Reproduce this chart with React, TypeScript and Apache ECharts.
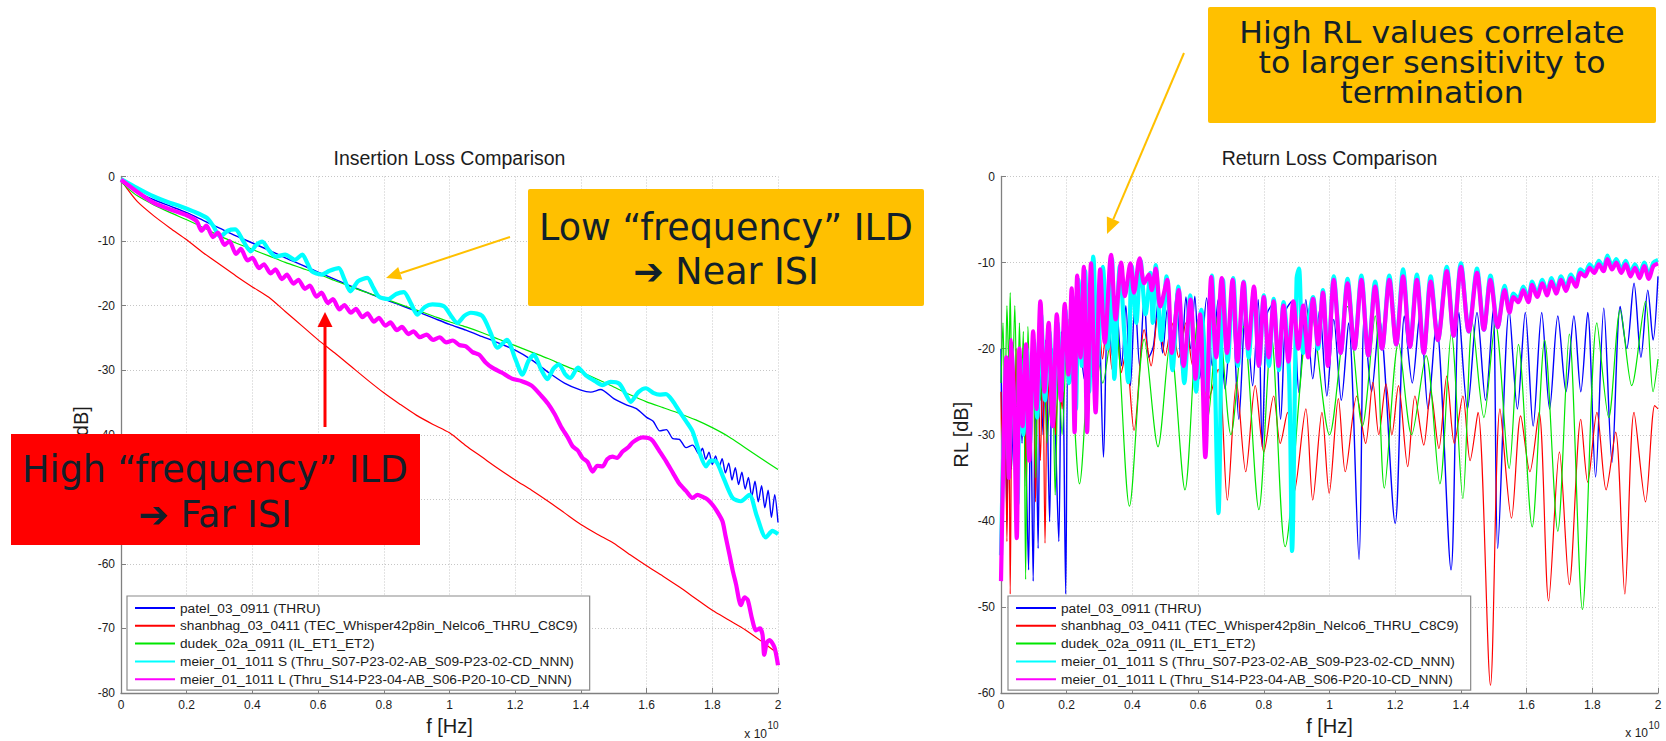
import { useEffect, useRef } from "react";
import * as echarts from "echarts";

type Pt = [number, number];

// ---- legend / series identity ----
const SERIES_NAMES = [
  "patel_03_0911 (THRU)",
  "shanbhag_03_0411 (TEC_Whisper42p8in_Nelco6_THRU_C8C9)",
  "dudek_02a_0911 (IL_ET1_ET2)",
  "meier_01_1011 S (Thru_S07-P23-02-AB_S09-P23-02-CD_NNN)",
  "meier_01_1011 L (Thru_S14-P23-04-AB_S06-P20-10-CD_NNN)",
];
const SERIES_COLORS = ["#0000ff", "#ff0000", "#00e600", "#00ffff", "#ff00ff"];

// frequency axis in units of 1e10 Hz
const FREQ_MIN = 0;
const FREQ_MAX = 2;
const FREQ_STEP = 0.2;
const IL_MIN = -80;
const RL_MIN = -60;
const DB_STEP = 10;

// ---- insertion loss [f (x1e10 Hz), dB] ----
const ilPatel: Pt[] = [
  [0, -0.5], [0.02, -1.4], [0.05, -2.4], [0.1, -3.6], [0.15, -4.6], [0.2, -5.6], [0.25, -6.8], [0.3, -8.0],
  [0.35, -9.2], [0.4, -10.3], [0.45, -11.4], [0.5, -12.6], [0.55, -13.7], [0.6, -14.8], [0.65, -15.9],
  [0.7, -17.0], [0.75, -18.0], [0.8, -19.0], [0.85, -19.9], [0.9, -20.9], [0.95, -21.9], [1.0, -22.9],
  [1.05, -23.8], [1.1, -24.8], [1.15, -25.8], [1.2, -26.9], [1.25, -28.4], [1.3, -30.3], [1.35, -32.0],
  [1.4, -33.1], [1.43, -33.4], [1.46, -33.0], [1.5, -34.4], [1.54, -35.4], [1.57, -36.0], [1.6, -37.3],
  [1.62, -37.9], [1.64, -39.4], [1.66, -39.2], [1.68, -40.6], [1.7, -40.7], [1.72, -42.0], [1.74, -41.6],
  [1.76, -43.0], [1.77, -42.1], [1.78, -43.8], [1.79, -42.7], [1.8, -44.6], [1.81, -43.3], [1.82, -45.1],
  [1.83, -43.7], [1.84, -45.9], [1.85, -44.4], [1.86, -47.0], [1.87, -45.1], [1.88, -47.7], [1.89, -45.8],
  [1.9, -48.4], [1.91, -46.6], [1.92, -49.6], [1.93, -47.2], [1.94, -50.4], [1.95, -47.9], [1.96, -51.3],
  [1.97, -48.6], [1.98, -52.8], [1.99, -49.3], [2.0, -53.6],
];
const ilShanbhag: Pt[] = [
  [0, -0.5], [0.02, -2.0], [0.05, -3.9], [0.1, -6.1], [0.15, -8.0], [0.2, -9.8], [0.25, -11.8], [0.3, -13.6],
  [0.35, -15.4], [0.4, -17.1], [0.45, -18.7], [0.5, -20.9], [0.55, -23.1], [0.6, -25.3], [0.65, -27.3],
  [0.7, -29.4], [0.75, -31.5], [0.8, -33.5], [0.85, -35.3], [0.9, -37.0], [0.95, -38.4], [1.0, -39.7],
  [1.05, -41.7], [1.1, -43.5], [1.15, -45.3], [1.2, -47.0], [1.25, -48.6], [1.3, -50.3], [1.35, -52.1],
  [1.4, -53.9], [1.45, -55.4], [1.5, -56.8], [1.55, -58.6], [1.6, -60.3], [1.65, -61.9], [1.7, -63.6],
  [1.75, -65.4], [1.8, -67.2], [1.85, -68.7], [1.9, -70.2], [1.95, -72.0], [2.0, -73.9],
];
const ilDudek: Pt[] = [
  [0, -0.8], [0.02, -1.8], [0.05, -3.0], [0.1, -4.4], [0.15, -5.6], [0.2, -6.7], [0.25, -7.9], [0.3, -9.2],
  [0.35, -10.3], [0.4, -11.3], [0.45, -12.3], [0.5, -13.3], [0.55, -14.2], [0.6, -15.1], [0.65, -16.1],
  [0.7, -17.1], [0.75, -18.0], [0.8, -18.9], [0.85, -19.8], [0.9, -20.7], [0.95, -21.6], [1.0, -22.5],
  [1.05, -23.3], [1.1, -24.2], [1.15, -25.2], [1.2, -26.2], [1.25, -27.2], [1.3, -28.2], [1.35, -29.3],
  [1.4, -30.3], [1.45, -31.4], [1.5, -32.6], [1.55, -33.8], [1.6, -34.9], [1.65, -35.8], [1.7, -36.7],
  [1.75, -37.7], [1.8, -38.9], [1.85, -40.3], [1.9, -42.0], [1.95, -43.7], [2.0, -45.4],
];
const ilMeierS: Pt[] = [
  [0, -0.4], [0.05, -1.8], [0.1, -3.1], [0.15, -4.1], [0.18, -4.6], [0.22, -5.4], [0.261, -6.4], [0.28, -7.6],
  [0.302, -9.3], [0.325, -8.4], [0.348, -8.2], [0.372, -10.0], [0.395, -11.6], [0.412, -10.6], [0.43, -10.1],
  [0.45, -11.4], [0.471, -12.4], [0.5, -12.1], [0.529, -12.9], [0.552, -12.1], [0.567, -13.4], [0.581, -14.7],
  [0.61, -15.2], [0.635, -14.6], [0.663, -14.2], [0.68, -15.9], [0.698, -17.8], [0.722, -16.2], [0.75, -15.7],
  [0.768, -17.2], [0.785, -18.6], [0.814, -19.0], [0.838, -18.2], [0.861, -17.9], [0.882, -19.6], [0.902, -21.4],
  [0.925, -20.2], [0.948, -19.8], [0.983, -20.1], [1.005, -21.6], [1.024, -22.7], [1.045, -21.6], [1.065, -21.1],
  [1.1, -21.6], [1.125, -24.2], [1.146, -26.5], [1.175, -25.3], [1.2, -28.2], [1.222, -30.7], [1.24, -28.6],
  [1.257, -27.6], [1.278, -29.8], [1.298, -31.4], [1.316, -29.8], [1.333, -29.1], [1.352, -30.6], [1.368, -31.2],
  [1.391, -29.6], [1.415, -30.8], [1.443, -31.7], [1.466, -32.3], [1.49, -31.8], [1.517, -32.1], [1.535, -33.6],
  [1.552, -34.9], [1.575, -33.4], [1.598, -32.8], [1.62, -33.5], [1.639, -33.8], [1.659, -33.7], [1.68, -34.8],
  [1.7, -36.4], [1.72, -37.9], [1.74, -39.5], [1.76, -42.6], [1.781, -44.9], [1.795, -44.0], [1.811, -44.1],
  [1.835, -46.8], [1.862, -49.8], [1.887, -50.3], [1.913, -49.3], [1.935, -52.5], [1.963, -55.9], [1.983, -54.9],
  [2.0, -55.4],
];
const ilMeierL: Pt[] = [
  [0, -0.5], [0.05, -2.4], [0.1, -4.1], [0.15, -5.1], [0.2, -6.0], [0.23, -6.9],
  [0.245, -8.4], [0.26, -7.6], [0.28, -9.4], [0.295, -8.7], [0.315, -10.6], [0.33, -10.0], [0.35, -12.0],
  [0.365, -11.2], [0.385, -13.0], [0.4, -12.6], [0.42, -14.2], [0.435, -13.6], [0.455, -15.0], [0.47, -14.4],
  [0.49, -15.9], [0.505, -15.2], [0.525, -16.6], [0.54, -16.0], [0.56, -17.4], [0.575, -16.9], [0.595, -18.6],
  [0.61, -18.0], [0.63, -19.6], [0.645, -19.0], [0.665, -20.6], [0.68, -19.9], [0.7, -21.1], [0.715, -20.5],
  [0.735, -21.8], [0.75, -21.2], [0.77, -22.5], [0.785, -21.9], [0.805, -23.1], [0.82, -22.6], [0.84, -23.8],
  [0.855, -23.3], [0.875, -24.4], [0.89, -24.0], [0.91, -24.9], [0.93, -24.5], [0.95, -25.3], [0.97, -24.9],
  [0.99, -25.7], [1.01, -25.4], [1.03, -26.1], [1.05, -26.3], [1.07, -27.2], [1.09, -27.6], [1.11, -28.8],
  [1.13, -29.6], [1.16, -30.4], [1.19, -31.3], [1.22, -31.7], [1.25, -32.4], [1.28, -34.0], [1.3, -35.2],
  [1.32, -36.8], [1.34, -38.8], [1.36, -40.4], [1.375, -41.8], [1.39, -42.4], [1.405, -43.6], [1.42, -44.2],
  [1.436, -45.7], [1.45, -44.8], [1.466, -44.9], [1.48, -43.8], [1.496, -43.4], [1.51, -43.6], [1.527, -42.6],
  [1.545, -41.9], [1.557, -41.2], [1.575, -40.6], [1.588, -40.4], [1.605, -40.5], [1.618, -40.9], [1.64, -42.6],
  [1.659, -44.1], [1.68, -45.9], [1.7, -47.6], [1.72, -48.7], [1.74, -49.8], [1.755, -49.3], [1.77, -49.6],
  [1.785, -50.0], [1.8, -50.8], [1.815, -51.9], [1.831, -53.4], [1.84, -55.6], [1.852, -58.5], [1.862, -61.0],
  [1.872, -63.1], [1.887, -66.4], [1.898, -65.2], [1.908, -65.6], [1.92, -68.3], [1.933, -70.3], [1.945, -70.0],
  [1.953, -71.0], [1.958, -74.1], [1.966, -72.2], [1.974, -71.8], [1.989, -72.9], [2.0, -75.7],
];

// ---- return loss [f (x1e10 Hz), dB] ----
const rlPatel: Pt[] = [
  [0, -20], [0.006, -36], [0.012, -23], [0.018, -40], [0.025, -21], [0.032, -34], [0.04, -24], [0.049, -40.1],
  [0.056, -22], [0.064, -31], [0.072, -20], [0.078, -36], [0.084, -45.7], [0.09, -25], [0.098, -47], [0.105, -23],
  [0.113, -43.2], [0.12, -21], [0.128, -30], [0.136, -19], [0.148, -40.1], [0.156, -20], [0.165, -29],
  [0.176, -42.4], [0.184, -18], [0.19, -26], [0.197, -48.5], [0.204, -19.5], [0.212, -24], [0.22, -17.5],
  [0.23, -25], [0.239, -18.2], [0.253, -23.5], [0.267, -15.8], [0.28, -21], [0.295, -13.5], [0.312, -32.6],
  [0.325, -16], [0.34, -21], [0.352, -15.5], [0.367, -22], [0.38, -15], [0.394, -24.3], [0.408, -14.3],
  [0.422, -22], [0.436, -14.1], [0.45, -21], [0.464, -19.7], [0.478, -14.7], [0.492, -20.5], [0.506, -15.5],
  [0.52, -20], [0.534, -13.5], [0.549, -22], [0.563, -14], [0.577, -20], [0.59, -13.9], [0.605, -23.5],
  [0.626, -14.1], [0.643, -22], [0.661, -14.3], [0.682, -24.7], [0.703, -15.1], [0.724, -28.2], [0.745, -15.1],
  [0.766, -24.3], [0.783, -14.3], [0.795, -31.4], [0.81, -16], [0.83, -14.7], [0.851, -28.2], [0.868, -15.5],
  [0.886, -14.5], [0.907, -25.1], [0.928, -14.3], [0.949, -23.5], [0.97, -15.5], [0.992, -25.5], [1.013, -16.6],
  [1.036, -26], [1.058, -17], [1.09, -44.5], [1.106, -16.2], [1.128, -25], [1.152, -16.6], [1.2, -40.3],
  [1.228, -16.2], [1.252, -24], [1.276, -15.8], [1.3, -27], [1.325, -17], [1.37, -45.7], [1.394, -15.8],
  [1.42, -27], [1.449, -15.8], [1.475, -26], [1.498, -15.5], [1.512, -43.2], [1.547, -15.5], [1.572, -27],
  [1.596, -15.8], [1.62, -29], [1.646, -15.8], [1.67, -27], [1.695, -16.2], [1.72, -25], [1.744, -16.2],
  [1.765, -25], [1.786, -15.8], [1.81, -34.9], [1.835, -15.3], [1.86, -33.2], [1.885, -15.1], [1.905, -20],
  [1.927, -12.4], [1.948, -21], [1.969, -13.2], [1.985, -19], [2.0, -11.6],
];
const rlShanbhag: Pt[] = [
  [0, -25], [0.006, -40], [0.012, -22], [0.018, -42.4], [0.024, -26], [0.028, -48.5], [0.034, -24], [0.04, -33],
  [0.046, -20], [0.052, -38], [0.058, -23], [0.064, -30], [0.07, -21], [0.077, -36], [0.084, -22], [0.092, -29],
  [0.098, -21], [0.105, -37.8], [0.112, -22], [0.12, -33], [0.127, -20.5], [0.134, -42.6], [0.142, -23],
  [0.15, -28], [0.158, -21], [0.166, -30], [0.176, -22], [0.186, -27], [0.196, -18], [0.204, -24],
  [0.211, -15.8], [0.225, -22], [0.239, -15.7], [0.252, -19.7], [0.267, -15.3], [0.28, -20.5], [0.295, -15.1],
  [0.309, -21.2], [0.323, -16.6], [0.338, -22.4], [0.352, -17], [0.366, -22.8], [0.38, -20.5], [0.405, -29.5],
  [0.436, -17.8], [0.457, -22], [0.478, -16.2], [0.5, -20.8], [0.52, -17], [0.541, -21], [0.563, -17],
  [0.584, -22], [0.605, -18.9], [0.63, -26], [0.661, -22.4], [0.689, -37.6], [0.717, -23.9], [0.745, -34.3],
  [0.774, -24.3], [0.8, -32], [0.83, -25.5], [0.85, -31], [0.872, -27.4], [0.893, -36.6], [0.928, -27],
  [0.949, -37.6], [0.977, -27.4], [0.999, -36.8], [1.027, -25.8], [1.048, -34.3], [1.083, -25.5], [1.11, -31],
  [1.132, -23.9], [1.15, -30], [1.172, -24.1], [1.19, -30], [1.21, -24.3], [1.238, -33.7], [1.26, -25.5],
  [1.287, -31.2], [1.308, -25], [1.333, -31.6], [1.357, -23.2], [1.38, -31], [1.406, -25.5], [1.428, -33],
  [1.452, -27.4], [1.49, -59.1], [1.519, -27], [1.554, -39.7], [1.582, -27.8], [1.61, -34.3], [1.638, -27.4],
  [1.667, -49.3], [1.7, -32], [1.73, -47.4], [1.765, -28.2], [1.786, -35.5], [1.814, -27.4], [1.842, -36.4],
  [1.871, -29.7], [1.899, -48.5], [1.927, -27.4], [1.962, -37.8], [1.99, -26.6], [2.0, -27],
];
const rlDudek: Pt[] = [
  [0, -24], [0.006, -17], [0.012, -28], [0.018, -15], [0.024, -22], [0.028, -13.5], [0.034, -26], [0.042, -15],
  [0.05, -30], [0.056, -17], [0.062, -25], [0.068, -18], [0.075, -46.8], [0.082, -17.4], [0.09, -27],
  [0.098, -19], [0.106, -35], [0.113, -18.9], [0.12, -26], [0.13, -20], [0.14, -31], [0.155, -20.5],
  [0.165, -37], [0.175, -22], [0.186, -30], [0.204, -16.6], [0.239, -35.7], [0.281, -15.1], [0.31, -24],
  [0.345, -15.7], [0.391, -38.3], [0.436, -18.9], [0.478, -31.4], [0.515, -19.3], [0.56, -36.4], [0.6, -16.6],
  [0.63, -28], [0.661, -15.8], [0.7, -30], [0.738, -17.4], [0.785, -38.7], [0.823, -18.5], [0.865, -43],
  [0.942, -15.1], [1.0, -30], [1.055, -15.1], [1.1, -29], [1.139, -16.2], [1.167, -36.2], [1.21, -19.3],
  [1.25, -30], [1.294, -20.8], [1.336, -35.7], [1.371, -18.2], [1.406, -37.4], [1.435, -17], [1.47, -28],
  [1.505, -17], [1.547, -33.9], [1.575, -19.5], [1.617, -40.7], [1.655, -19], [1.695, -41.2], [1.73, -18.3],
  [1.77, -50.3], [1.814, -17], [1.85, -28], [1.885, -15.5], [1.92, -24.3], [1.962, -14.5], [1.985, -25],
  [2.0, -21.2],
];
const rlMeierS: Pt[] = [
  [0, -44], [0.008, -30], [0.016, -22], [0.024, -33], [0.032, -20], [0.04, -28], [0.05, -38], [0.058, -21],
  [0.068, -30], [0.078, -20], [0.088, -31], [0.1, -19], [0.11, -28], [0.122, -16], [0.134, -26], [0.147, -18],
  [0.16, -27], [0.172, -17], [0.184, -25], [0.196, -15.5], [0.207, -24], [0.218, -14], [0.228, -27],
  [0.236, -12], [0.246, -22], [0.256, -11], [0.268, -25], [0.281, -9.3], [0.294, -22], [0.31, -10.5],
  [0.325, -20], [0.338, -9.6], [0.345, -23.5], [0.362, -10.4], [0.375, -18], [0.387, -23.9], [0.398, -10.4],
  [0.412, -17], [0.425, -9.8], [0.44, -16], [0.455, -11.2], [0.462, -17], [0.471, -10.3], [0.488, -19],
  [0.504, -11.6], [0.522, -22.5], [0.54, -12.8], [0.558, -24], [0.576, -13.8], [0.594, -25], [0.61, -15.5],
  [0.628, -25], [0.642, -11.5], [0.662, -39.1], [0.676, -12], [0.69, -21.5], [0.707, -11.8], [0.721, -22],
  [0.739, -12.2], [0.754, -21], [0.77, -13.2], [0.786, -22], [0.8, -13.8], [0.816, -22], [0.83, -14.2],
  [0.846, -22.5], [0.86, -14.6], [0.877, -23], [0.886, -43.5], [0.9, -11.8], [0.907, -10.7], [0.92, -20.5],
  [0.95, -14], [0.965, -20], [0.98, -13.2], [0.995, -21.5], [1.013, -11.6], [1.034, -20.5], [1.055, -11.9],
  [1.076, -20], [1.097, -11.5], [1.118, -20.8], [1.139, -12.2], [1.16, -20], [1.182, -11.5], [1.203, -19.5],
  [1.224, -10.8], [1.245, -19.8], [1.266, -11.4], [1.287, -20.5], [1.308, -11.6], [1.33, -19], [1.357, -10.5],
  [1.378, -18.5], [1.4, -10.1], [1.424, -18], [1.449, -10.7], [1.47, -17.8], [1.49, -11.5], [1.512, -17.5],
  [1.533, -12.7], [1.548, -15.6], [1.56, -13.6], [1.575, -14.2], [1.59, -12.8], [1.605, -14.2], [1.617, -12.2],
  [1.632, -13.6], [1.648, -12], [1.662, -13.4], [1.676, -11.8], [1.69, -13.2], [1.705, -11.6], [1.72, -12.9],
  [1.735, -11.4], [1.75, -12.4], [1.764, -10.8], [1.778, -11.2], [1.792, -10.2], [1.806, -10.8], [1.82, -9.8],
  [1.834, -10.6], [1.846, -9.2], [1.86, -10.4], [1.873, -9.6], [1.888, -10.8], [1.902, -9.8], [1.916, -11.2],
  [1.93, -10.2], [1.944, -11.4], [1.958, -10], [1.972, -11.5], [1.986, -10], [2.0, -9.7],
];
const rlMeierL: Pt[] = [
  [0, -47], [0.008, -31], [0.016, -21], [0.024, -35], [0.032, -19], [0.04, -27], [0.048, -42], [0.056, -20],
  [0.066, -29], [0.076, -19.5], [0.086, -33], [0.098, -18], [0.108, -27], [0.12, -14.5], [0.132, -25],
  [0.145, -17], [0.157, -29], [0.17, -16], [0.182, -26], [0.194, -14.8], [0.205, -23], [0.215, -13],
  [0.224, -29.7], [0.232, -11.5], [0.242, -21], [0.252, -10.5], [0.262, -29.7], [0.274, -10.1], [0.288, -27.4],
  [0.302, -10.8], [0.316, -19.3], [0.335, -9.1], [0.349, -16.6], [0.366, -10], [0.377, -13.9], [0.394, -10.1],
  [0.405, -13.5], [0.422, -9.5], [0.436, -12.4], [0.45, -11.4], [0.459, -13.2], [0.471, -10.7], [0.485, -15.1],
  [0.506, -12], [0.52, -20.5], [0.541, -13.2], [0.556, -22], [0.577, -14.3], [0.592, -23.5], [0.606, -16],
  [0.622, -32.6], [0.64, -11.7], [0.655, -21], [0.672, -11.8], [0.688, -20.5], [0.705, -12], [0.72, -21.5],
  [0.738, -12.3], [0.752, -20], [0.77, -12.8], [0.785, -22], [0.8, -14], [0.815, -21], [0.83, -14.5],
  [0.845, -22], [0.86, -15], [0.875, -21.5], [0.89, -14.5], [0.905, -20], [0.92, -15], [0.935, -21],
  [0.95, -14.2], [0.965, -19.5], [0.98, -13.5], [0.995, -22], [1.013, -12], [1.034, -20.5], [1.055, -12.4],
  [1.076, -20], [1.097, -12], [1.118, -20.8], [1.139, -12.8], [1.16, -20], [1.182, -12], [1.203, -19.5],
  [1.224, -11.6], [1.245, -19.8], [1.266, -12], [1.287, -20.5], [1.308, -12.2], [1.33, -19], [1.357, -11],
  [1.378, -18.5], [1.4, -10.5], [1.424, -18], [1.449, -11.2], [1.47, -17.8], [1.49, -12], [1.512, -17.5],
  [1.533, -13.2], [1.548, -15.8], [1.56, -14], [1.575, -14.6], [1.59, -13.2], [1.605, -14.6], [1.617, -12.6],
  [1.632, -14], [1.648, -12.4], [1.662, -13.8], [1.676, -12.2], [1.69, -13.6], [1.705, -12], [1.72, -13.3],
  [1.735, -11.8], [1.75, -12.8], [1.764, -11.2], [1.778, -11.6], [1.792, -10.6], [1.806, -11.2], [1.82, -10.2],
  [1.834, -11], [1.846, -9.6], [1.86, -10.8], [1.873, -10], [1.888, -11.2], [1.902, -10.2], [1.916, -11.6],
  [1.93, -10.6], [1.944, -11.8], [1.958, -10.4], [1.972, -11.9], [1.986, -10.4], [2.0, -10.1],
];

const IL_DATA = [ilPatel, ilShanbhag, ilDudek, ilMeierS, ilMeierL];
const RL_DATA = [rlPatel, rlShanbhag, rlDudek, rlMeierS, rlMeierL];
const LINE_WIDTHS = [1.4, 1.2, 1.2, 4.2, 4.2];

const AXIS_FONT = '"Liberation Sans", Arial, Helvetica, sans-serif';
const NOTE_FONT = '"DejaVu Sans", Verdana, sans-serif';
const INK = "#1c1c1c";
const NOTE_INK = "#11202b";
const AXIS_GRAY = "#808080";
const GRID_GRAY = "#c6c6c6";
const AMBER = "#ffc000";

const PLOTS = [
  { left: 121, top: 176.5, width: 657, height: 519.5 },
  { left: 1001, top: 176.5, width: 657, height: 519.5 },
];

function xAxis(gridIndex: number) {
  return {
    type: "value",
    gridIndex,
    min: FREQ_MIN,
    max: FREQ_MAX,
    interval: FREQ_STEP,
    name: "f [Hz]",
    nameLocation: "middle",
    nameGap: 23,
    nameTextStyle: { fontFamily: AXIS_FONT, fontSize: 20, color: INK },
    axisLine: { onZero: false, lineStyle: { color: AXIS_GRAY, width: 1.3 } },
    axisTick: { inside: true, length: 5, lineStyle: { color: AXIS_GRAY } },
    axisLabel: {
      margin: 6,
      fontFamily: AXIS_FONT,
      fontSize: 12,
      color: INK,
      formatter: (v: number) => String(Math.round(v * 10) / 10),
    },
    splitLine: { show: true, lineStyle: { color: GRID_GRAY, width: 1, type: [1, 2] } },
  };
}

function yAxis(gridIndex: number, min: number, name: string) {
  return {
    type: "value",
    gridIndex,
    min,
    max: 0,
    interval: DB_STEP,
    name,
    nameLocation: "middle",
    nameGap: 30,
    nameTextStyle: { fontFamily: AXIS_FONT, fontSize: 20, color: INK },
    axisLine: { onZero: false, lineStyle: { color: AXIS_GRAY, width: 1.3 } },
    axisTick: { inside: true, length: 5, lineStyle: { color: AXIS_GRAY } },
    axisLabel: { margin: 6, fontFamily: AXIS_FONT, fontSize: 12, color: INK },
    splitLine: { show: true, lineStyle: { color: GRID_GRAY, width: 1, type: [1, 2] } },
  };
}

function legend(left: number) {
  return {
    data: SERIES_NAMES,
    orient: "vertical",
    left,
    top: 596,
    itemWidth: 40,
    itemHeight: 14,
    itemGap: 3.8,
    padding: [5, 12, 4, 7],
    backgroundColor: "#ffffff",
    borderColor: "#8a8a8a",
    borderWidth: 1.2,
    borderRadius: 0,
    selectedMode: false,
    itemStyle: { opacity: 0 },
    textStyle: { fontFamily: AXIS_FONT, fontSize: 13.7, color: INK },
  };
}

function lineSeries(data: Pt[], i: number, gridIndex: number, smooth: number) {
  return {
    type: "line",
    name: SERIES_NAMES[i],
    xAxisIndex: gridIndex,
    yAxisIndex: gridIndex,
    data,
    symbol: "none",
    showSymbol: false,
    smooth,
    color: SERIES_COLORS[i],
    lineStyle: { color: SERIES_COLORS[i], width: LINE_WIDTHS[i] },
    emphasis: { disabled: true },
    z: 2 + i * 0.01,
  };
}

function text(
  x: number,
  y: number,
  content: string,
  font: string,
  align: string,
  fill: string,
  extra: Record<string, unknown> = {},
  elProps: Record<string, unknown> = {},
) {
  return {
    type: "text",
    z: 100,
    ...elProps,
    style: {
      x,
      y,
      text: content,
      font,
      fill,
      textAlign: align,
      textVerticalAlign: "middle",
      align,
      verticalAlign: "middle",
      ...extra,
    },
  };
}

// callout text whose arrow glyph is set in the bold face
function calloutText(x: number, y: number, first: string, second: string, size: number, lineHeight: number) {
  return text(x, y, `{t|${first}}\n{a|\u2794}{t| ${second}}`, `${size}px ${NOTE_FONT}`, "center", NOTE_INK, {
    lineHeight,
    rich: {
      t: { font: `${size}px ${NOTE_FONT}`, fill: NOTE_INK, lineHeight },
      a: { font: `bold ${size}px ${NOTE_FONT}`, fill: NOTE_INK, lineHeight },
    },
  });
}

function arrow(x1: number, y1: number, x2: number, y2: number, color: string, width: number, headLen: number, headHalf: number) {
  const dx = x2 - x1;
  const dy = y2 - y1;
  const len = Math.hypot(dx, dy);
  const ux = dx / len;
  const uy = dy / len;
  const bx = x2 - ux * headLen;
  const by = y2 - uy * headLen;
  return [
    { type: "line", z: 100, shape: { x1, y1, x2: bx, y2: by }, style: { stroke: color, lineWidth: width } },
    {
      type: "polygon",
      z: 100,
      shape: {
        points: [
          [x2, y2],
          [bx - uy * headHalf, by + ux * headHalf],
          [bx + uy * headHalf, by - ux * headHalf],
        ],
      },
      style: { fill: color },
    },
  ];
}

function buildOption() {
  const titleFont = `19.5px ${AXIS_FONT}`;
  const expFont = `12px ${AXIS_FONT}`;
  const supFont = `10px ${AXIS_FONT}`;
  return {
    animation: false,
    backgroundColor: "#ffffff",
    grid: PLOTS.map((p) => ({ ...p, containLabel: false })),
    xAxis: [xAxis(0), xAxis(1)],
    yAxis: [yAxis(0, IL_MIN, "IL [dB]"), yAxis(1, RL_MIN, "RL [dB]")],
    legend: [legend(127), legend(1008)],
    series: [
      ...IL_DATA.map((d, i) => lineSeries(d, i, 0, 0.25)),
      ...RL_DATA.map((d, i) => lineSeries(d, i, 1, 0.3)),
    ],
    graphic: [
      text(449.5, 158, "Insertion Loss Comparison", titleFont, "center", INK),
      text(1329.5, 158, "Return Loss Comparison", titleFont, "center", INK),
      text(767, 734, "x 10", expFont, "right", INK),
      text(767.5, 725, "10", supFont, "left", INK),
      text(1648, 733, "x 10", expFont, "right", INK),
      text(1648.5, 725, "10", supFont, "left", INK),

      // callout: low-frequency ILD
      { type: "rect", z: 99, shape: { x: 528, y: 189, width: 396, height: 117, r: 2 }, style: { fill: AMBER } },
      calloutText(726, 249, "Low \u201cfrequency\u201d ILD", "Near ISI", 36.5, 44),
      ...arrow(510, 237, 386, 278, AMBER, 2, 15, 6.5),

      // callout: high-frequency ILD
      { type: "rect", z: 99, shape: { x: 11, y: 434, width: 409, height: 111 }, style: { fill: "#ff0000" } },
      calloutText(215, 492, "High \u201cfrequency\u201d ILD", "Far ISI", 36.5, 45),
      ...arrow(325, 427, 325, 312, "#ff0000", 3, 15, 7.5),

      // callout: return loss
      { type: "rect", z: 99, shape: { x: 1208, y: 7, width: 448, height: 116, r: 2 }, style: { fill: AMBER } },
      text(
        0,
        0,
        "High RL values correlate\nto larger sensitivity to\ntermination",
        `29.5px ${NOTE_FONT}`,
        "center",
        NOTE_INK,
        { lineHeight: 30 },
        { x: 1432, y: 63, scaleX: 1.07 },
      ),
      ...arrow(1184, 53, 1107, 234, AMBER, 2, 16, 7),
    ],
  };
}

export default function App() {
  const ref = useRef<HTMLDivElement>(null);
  useEffect(() => {
    if (!ref.current) return;
    const chart = echarts.init(ref.current, undefined, { renderer: "svg" });
    chart.setOption(buildOption() as any);
    return () => chart.dispose();
  }, []);
  return (
    <div
      ref={ref}
      style={{ position: "fixed", left: 0, top: 0, width: 1666, height: 741, background: "#ffffff" }}
    />
  );
}
